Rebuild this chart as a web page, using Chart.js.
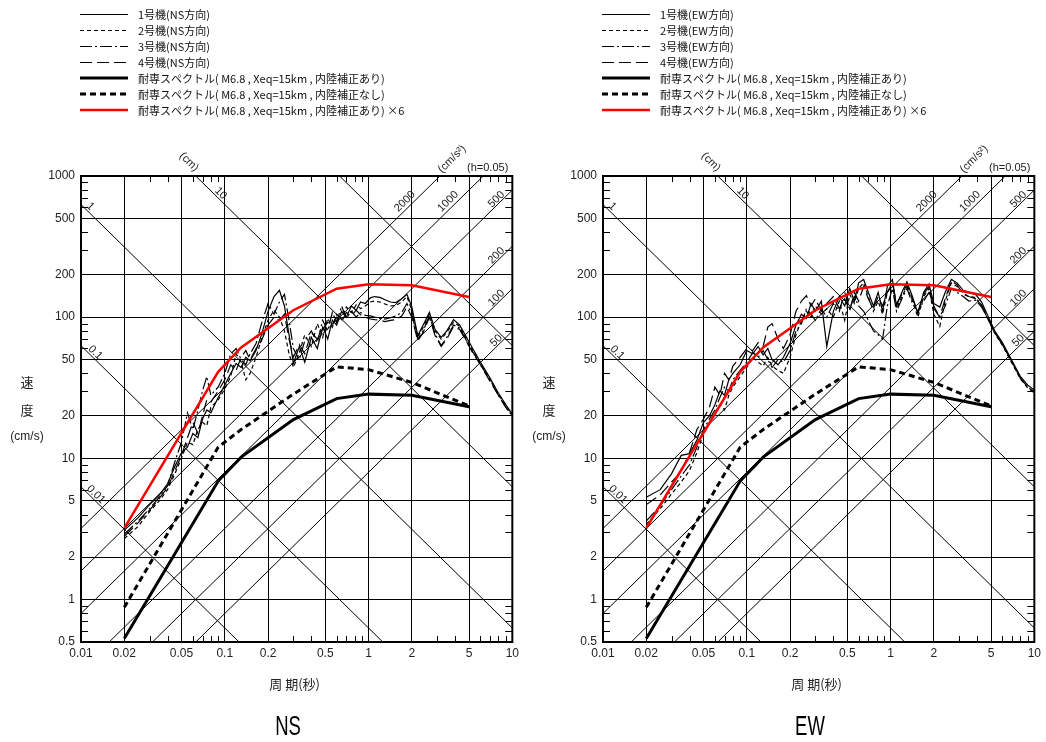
<!DOCTYPE html>
<html>
<head>
<meta charset="utf-8">
<script src="https://cdn.jsdelivr.net/npm/chart.js"></script>
<style>
  body { margin: 0; background: #fff; width: 1046px; height: 742px; overflow: hidden; position: relative; }
  canvas { position: absolute; top: 0; }
</style>
</head>
<body>
<canvas id="ns" width="523" height="742" style="left:0"></canvas>
<canvas id="ew" width="523" height="742" style="left:522px"></canvas>
<script>
// periods (s) shared by the observed spectra
const periods = [0.02,0.025,0.03,0.035,0.04,0.045,0.05,0.055,0.06,0.065,
  0.07,0.075,0.08,0.09,0.1,0.11,0.12,0.13,0.14,0.15,
  0.165,0.18,0.2,0.22,0.24,0.26,0.28,0.3,0.33,0.36,
  0.4,0.44,0.48,0.52,0.56,0.6,0.65,0.7,0.76,0.82,
  0.88,0.95,1.03,1.1,1.2,1.3,1.42,1.55,1.7,1.85,
  2.0,2.2,2.4,2.65,2.9,3.2,3.5,3.9,4.3,4.8,
  5.3,6.0,7.0,8.0,9.0,10.0];

// NS direction, units 1-4 (cm/s)
const ns1 = [3.1,3.8,4.7,5.5,6.6,8.8,11,12,15,14, 19,22,21,27,33,40,47,44,52,49,
  58,75,110,140,155,120,75,47,62,48, 72,60,85,70,95,88,110,100,120,112,
  128,125,137,140,138,133,128,127,135,145, 118,74,88,108,82,72,80,96,88,72,
  60,48,37,29,24,20.5];
const ns2 = [2.7,3.3,4.2,5.0,6.0,7.8,10,13,12.5,16, 18,17,23,26,31,38,55,48,36,40,
  52,70,95,112,100,80,55,44,56,75, 62,90,72,98,85,105,96,118,108,122,
  115,120,128,130,128,124,120,121,128,140, 112,72,85,105,80,70,78,92,86,70,
  58,47,36,28.5,23.5,20.5];
const ns3 = [2.9,3.6,4.4,5.3,6.4,9.5,13,21,16,22, 30,38,28,32,40,55,60,50,46,55,
  65,90,125,105,128,145,95,60,50,68, 80,66,95,80,108,92,120,98,110,100,
  108,103,102,100,98,97,99,102,108,125, 105,70,80,103,76,63,72,88,84,68,
  57,46,36,28,23,20];
const ns4 = [2.8,3.5,4.3,5.2,6.2,8.2,10.5,14,18,15, 20,26,25,30,36,46,42,52,58,50,
  60,68,88,100,95,105,70,52,64,55, 78,70,82,92,88,100,93,108,102,112,
  104,100,97,96,95,93,95,96,102,118, 100,68,78,100,74,62,70,86,82,67,
  56,46,35,28,23,20];

// EW direction, units 1-4 (cm/s)
const ew1 = [5.3,6.0,7.8,10.5,10.8,13.5,18,20,24,30, 28,36,40,46,58,55,62,54,60,50,
  46,52,65,88,105,98,125,110,130,62, 110,140,120,160,130,175,185,150,120,150,
  110,165,185,120,150,178,140,105,150,172, 125,118,150,185,175,155,150,145,128,100,
  80,66,49,38,33,30.5];
const ew2 = [3.4,4.4,5.6,6.8,8.2,11,15,18,21,24, 22,28,32,38,44,52,48,45,52,45,
  42,40,52,75,95,110,100,120,105,115, 100,130,95,145,125,160,175,140,110,130,
  105,150,170,115,140,165,130,100,140,160, 105,86,130,175,165,148,140,138,120,95,
  77,63,47,36.5,31.5,29];
const ew3 = [3.6,4.6,6.0,7.5,9.0,12,16,19,22,27, 32,30,36,42,48,56,52,58,50,44,
  50,48,58,80,90,115,105,95,115,100, 125,110,150,115,140,120,110,95,80,75,
  70,120,160,110,135,160,125,110,130,150, 120,100,120,160,150,140,130,132,118,95,
  78,64,48,37,32,29.5];
const ew4 = [4.7,5.5,6.8,8.0,11,16,19,23,32,28, 40,36,45,52,60,58,66,62,85,90,
  70,60,75,110,130,142,120,135,110,125, 140,115,135,110,150,130,165,135,115,140,
  120,150,175,125,145,170,135,110,145,165, 115,100,135,180,170,145,140,135,122,98,
  78,64,48,37,32,29.5];

// design spectra (耐専スペクトル)
const designPeriods = [0.02, 0.09, 0.13, 0.3, 0.6, 1.0, 2.0, 5.0];
const designWith = [0.53, 6.9, 10.2, 18.8, 26.5, 28.5, 28, 23.2];
const designWithout = [0.88, 12, 16, 28.5, 44.5, 42.5, 34.5, 23.5];
const designWithX6 = [3.2, 41, 61, 112, 159, 171, 168, 139];

// axes
const periodTicks = [0.01, 0.02, 0.05, 0.1, 0.2, 0.5, 1, 2, 5, 10];
const velocityTicks = [0.5, 1, 2, 5, 10, 20, 50, 100, 200, 500, 1000];
const periodMinor = [0.03,0.04,0.06,0.07,0.08,0.09, 0.3,0.4,0.6,0.7,0.8,0.9, 3,4,6,7,8,9];
const velocityMinor = [0.6,0.7,0.8,0.9, 3,4,6,7,8,9, 30,40,60,70,80,90, 300,400,600,700,800,900];

// tripartite lines: displacement (cm) and acceleration (cm/s2)
const dispLines = [0.01, 0.1, 1, 10, 100];
const dispLabels = ['0.01', '0.1', '1', '10'];
const accLines = [50, 100, 200, 500, 1000, 2000];

const latin = "'Liberation Sans', Arial, sans-serif";
const cjk = "'Noto Sans CJK JP', sans-serif";

function pts(xs, ys) {
    return xs.map((t, i) => ({ x: t, y: ys[i] }));
}

// clip a segment to the plot area (Liang-Barsky)
function clipSeg(p, q, a) {
    let t0 = 0, t1 = 1;
    const dx = q.x - p.x, dy = q.y - p.y;
    const P = [-dx, dx, -dy, dy];
    const Q = [p.x - a.left, a.right - p.x, p.y - a.top, a.bottom - p.y];
    for (let i = 0; i < 4; i++) {
        if (P[i] === 0) { if (Q[i] < 0) return null; continue; }
        const r = Q[i] / P[i];
        if (P[i] < 0) { if (r > t1) return null; if (r > t0) t0 = r; }
        else { if (r < t0) return null; if (r < t1) t1 = r; }
    }
    return [{ x: p.x + t0 * dx, y: p.y + t0 * dy }, { x: p.x + t1 * dx, y: p.y + t1 * dy }];
}

function rotText(ctx, text, x, y, ang) {
    ctx.save();
    ctx.translate(x, y);
    ctx.rotate(ang);
    ctx.fillText(text, 0, 0);
    ctx.restore();
}

const decor = {
    id: 'decor',
    beforeDatasetsDraw(chart) {
        const { ctx, chartArea: a, scales: { x, y } } = chart;
        const tMin = periodTicks[0], tMax = periodTicks[periodTicks.length - 1];
        ctx.save();
        ctx.strokeStyle = '#000';
        ctx.lineWidth = 1;
        ctx.fillStyle = '#222';
        ctx.font = '11px ' + latin;
        ctx.textAlign = 'center';
        ctx.textBaseline = 'middle';
        const segs = [];
        dispLines.forEach(d => {
            const p = { x: x.getPixelForValue(tMin), y: y.getPixelForValue(2 * Math.PI * d / tMin) };
            const q = { x: x.getPixelForValue(tMax), y: y.getPixelForValue(2 * Math.PI * d / tMax) };
            segs.push({ kind: 'd', val: d, s: clipSeg(p, q, a) });
        });
        accLines.forEach(acc => {
            const p = { x: x.getPixelForValue(tMin), y: y.getPixelForValue(acc * tMin / (2 * Math.PI)) };
            const q = { x: x.getPixelForValue(tMax), y: y.getPixelForValue(acc * tMax / (2 * Math.PI)) };
            segs.push({ kind: 'a', val: acc, s: clipSeg(p, q, a) });
        });
        segs.forEach(g => {
            if (!g.s) return;
            const [p, q] = g.s;
            ctx.beginPath();
            ctx.moveTo(p.x, p.y);
            ctx.lineTo(q.x, q.y);
            ctx.stroke();
            const len = Math.hypot(q.x - p.x, q.y - p.y);
            const u = { x: (q.x - p.x) / len, y: (q.y - p.y) / len };
            const n = { x: u.y, y: -u.x };
            const ang = Math.atan2(u.y, u.x);
            if (g.kind === 'd') {
                const txt = String(g.val);
                if (!dispLabels.includes(txt)) return;
                const along = { '0.01': 16, '0.1': 15, '1': 8, '10': 30 }[txt];
                rotText(ctx, txt, p.x + along * u.x + 5 * n.x, p.y + along * u.y + 5 * n.y, ang);
            } else {
                const top = Math.abs(q.y - a.top) < 0.5;
                const along = top ? 43 : 18, off = top ? 6.5 : 4.5;
                rotText(ctx, String(g.val), q.x - along * u.x + off * n.x, q.y - along * u.y + off * n.y, ang);
            }
        });

        // minor ticks on all four edges, pointing inward
        ctx.lineWidth = 1;
        ctx.beginPath();
        periodMinor.forEach(t => {
            const px = Math.round(x.getPixelForValue(t)) + 0.5;
            ctx.moveTo(px, a.top); ctx.lineTo(px, a.top + 6);
            ctx.moveTo(px, a.bottom); ctx.lineTo(px, a.bottom - 6);
        });
        velocityMinor.forEach(v => {
            const py = Math.round(y.getPixelForValue(v)) + 0.5;
            ctx.moveTo(a.left, py); ctx.lineTo(a.left + 7, py);
            ctx.moveTo(a.right, py); ctx.lineTo(a.right - 7, py);
        });
        ctx.stroke();
        ctx.restore();
    },
    afterDraw(chart, args, opts) {
        const { ctx, chartArea: a } = chart;
        ctx.save();
        // frame
        ctx.strokeStyle = '#000';
        ctx.lineWidth = 2;
        ctx.strokeRect(a.left, a.top, a.right - a.left, a.bottom - a.top);

        // legend
        ctx.textAlign = 'left';
        ctx.textBaseline = 'middle';
        ctx.font = '11px ' + cjk;
        chart.data.datasets.forEach((ds, i) => {
            const yy = 14 + 16 * i + (ds.borderWidth < 2 ? 0.5 : 0);
            ctx.beginPath();
            ctx.strokeStyle = ds.borderColor;
            ctx.lineWidth = ds.borderWidth < 2 ? 1 : ds.borderWidth;
            ctx.setLineDash(ds.borderDash || []);
            ctx.moveTo(a.left - 1, yy);
            ctx.lineTo(a.left + 47, yy);
            ctx.stroke();
            ctx.setLineDash([]);
            ctx.fillStyle = '#111';
            ctx.fillText(ds.label, a.left + 57, 14 + 16 * i + 1);
        });

        // unit labels above the plot
        ctx.fillStyle = '#222';
        ctx.textAlign = 'center';
        ctx.font = '11px ' + latin;
        rotText(ctx, '(cm)', a.left + 108, a.top - 14, Math.PI / 4);
        rotText(ctx, '(cm/s²)', a.left + 371, a.top - 17, -Math.PI / 4);
        ctx.textAlign = 'right';
        ctx.fillText('(h=0.05)', a.right - 4, a.top - 8);

        // axis titles
        ctx.textAlign = 'center';
        ctx.font = '13px ' + cjk;
        ctx.fillText('速', a.left - 54, 382);
        ctx.fillText('度', a.left - 54, 410);
        ctx.font = '12px ' + latin;
        ctx.fillText('(cm/s)', a.left - 54, 437);
        ctx.font = '13px ' + cjk;
        ctx.fillText('周 期(秒)', (a.left + a.right) / 2 - 2, 684);

        // panel title
        ctx.save();
        ctx.translate(a.left + 207, 727);
        ctx.scale(0.66, 1);
        ctx.fillStyle = '#000';
        ctx.font = '28px ' + latin;
        ctx.fillText(opts.title, 0, 0);
        ctx.restore();
        ctx.restore();
    }
};

function makeChart(id, dir, obs) {
    const datasets = [
        { label: `1号機(${dir}方向)`, data: pts(periods, obs[0]), borderColor: '#000', borderWidth: 1.2, borderDash: [], order: 2 },
        { label: `2号機(${dir}方向)`, data: pts(periods, obs[1]), borderColor: '#000', borderWidth: 1.2, borderDash: [4, 3], order: 2 },
        { label: `3号機(${dir}方向)`, data: pts(periods, obs[2]), borderColor: '#000', borderWidth: 1.2, borderDash: [12, 3, 2, 3], order: 2 },
        { label: `4号機(${dir}方向)`, data: pts(periods, obs[3]), borderColor: '#000', borderWidth: 1.2, borderDash: [12, 5], order: 2 },
        { label: '耐専スペクトル( M6.8 , Xeq=15km , 内陸補正あり)', data: pts(designPeriods, designWith), borderColor: '#000', borderWidth: 3, borderDash: [], order: 1 },
        { label: '耐専スペクトル( M6.8 , Xeq=15km , 内陸補正なし)', data: pts(designPeriods, designWithout), borderColor: '#000', borderWidth: 3, borderDash: [6, 4], order: 1 },
        { label: '耐専スペクトル( M6.8 , Xeq=15km , 内陸補正あり) ×6', data: pts(designPeriods, designWithX6), borderColor: '#ff0000', borderWidth: 2.5, borderDash: [], order: 0 }
    ];
    const tickFont = { family: latin, size: 12 };
    return new Chart(document.getElementById(id), {
        type: 'line',
        data: { datasets },
        options: {
            responsive: false,
            animation: false,
            devicePixelRatio: 1,
            layout: { padding: { left: 0, right: 10, top: 176, bottom: 80 } },
            plugins: { legend: { display: false }, tooltip: { enabled: false }, decor: { title: dir } },
            elements: { point: { radius: 0 }, line: { tension: 0, fill: false } },
            scales: {
                x: {
                    type: 'logarithmic', min: 0.01, max: 10,
                    afterBuildTicks: s => { s.ticks = periodTicks.map(v => ({ value: v })); },
                    afterFit: s => { s.height = 20; },
                    ticks: { callback: v => String(v), autoSkip: false, maxRotation: 0, padding: 4, color: '#222', font: tickFont },
                    grid: { color: '#000', lineWidth: 1, drawTicks: false },
                    border: { display: false }
                },
                y: {
                    type: 'logarithmic', min: 0.5, max: 1000,
                    afterBuildTicks: s => { s.ticks = velocityTicks.map(v => ({ value: v })); },
                    afterFit: s => { s.width = 81; },
                    ticks: { callback: v => String(v), autoSkip: false, padding: 6, color: '#222', font: tickFont },
                    grid: { color: '#000', lineWidth: 1, drawTicks: false },
                    border: { display: false }
                }
            }
        },
        plugins: [decor]
    });
}

makeChart('ns', 'NS', [ns1, ns2, ns3, ns4]);
makeChart('ew', 'EW', [ew1, ew2, ew3, ew4]);
</script>
</body>
</html>
